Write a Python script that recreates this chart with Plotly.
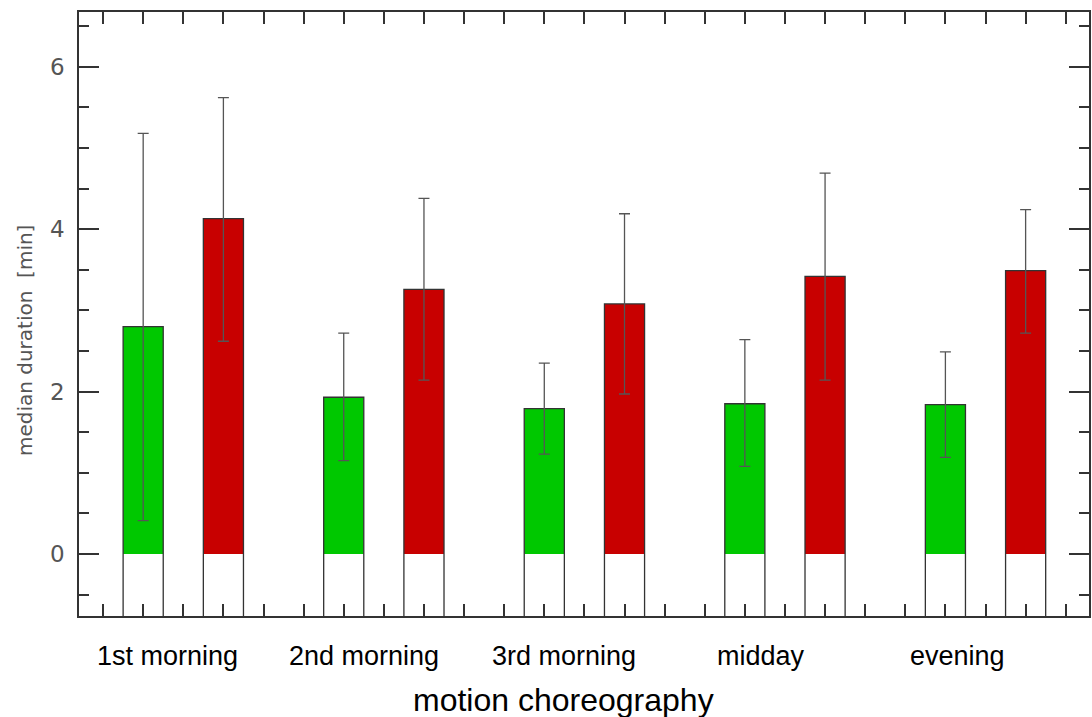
import plotly.graph_objects as go

categories = ["1st morning", "2nd morning", "3rd morning", "midday", "evening"]
green_vals = [2.80, 1.93, 1.79, 1.85, 1.84]
green_hi = [5.18, 2.72, 2.35, 2.64, 2.49]
green_lo = [0.41, 1.15, 1.23, 1.08, 1.19]
red_vals = [4.13, 3.26, 3.08, 3.42, 3.49]
red_hi = [5.62, 4.38, 4.19, 4.69, 4.24]
red_lo = [2.62, 2.14, 1.97, 2.14, 2.72]

green_x = [1, 6, 11, 16, 21]
red_x = [3, 8, 13, 18, 23]
label_x = [1.6, 6.5, 11.5, 16.4, 21.3]

YMIN, YMAX = -0.764, 6.675
XMIN, XMAX = -0.6, 24.58
BASE = -1.0

GREEN = "#00c800"
RED = "#c80000"
EDGE = "#333333"

fig = go.Figure()

def add_group(xs, vals, hi, lo, color):
    # white part below zero
    fig.add_trace(go.Bar(x=xs, y=[0 - BASE] * len(xs), base=[BASE] * len(xs), width=1,
                         marker=dict(color="white", line=dict(width=0)), showlegend=False,
                         hoverinfo="skip"))
    # colored part
    fig.add_trace(go.Bar(x=xs, y=vals, base=[0] * len(xs), width=1,
                         marker=dict(color=color, line=dict(width=0)), showlegend=False))
    # outline
    fig.add_trace(go.Bar(x=xs, y=[v - BASE for v in vals], base=[BASE] * len(xs), width=1,
                         marker=dict(color="rgba(0,0,0,0)", line=dict(width=1.3, color=EDGE)),
                         showlegend=False, hoverinfo="skip"))
    # error bars
    fig.add_trace(go.Scatter(x=xs, y=vals, mode="markers", marker=dict(size=0.1, opacity=0),
                             error_y=dict(type="data", symmetric=False,
                                          array=[h - v for h, v in zip(hi, vals)],
                                          arrayminus=[v - l for v, l in zip(vals, lo)],
                                          color="#555555", thickness=1.3, width=5.5),
                             showlegend=False))

add_group(green_x, green_vals, green_hi, green_lo, GREEN)
add_group(red_x, red_vals, red_hi, red_lo, RED)

fig.update_layout(
    width=1092, height=717,
    margin=dict(l=79, r=1, t=12, b=101),
    paper_bgcolor="white", plot_bgcolor="white",
    barmode="overlay",
    xaxis=dict(range=[XMIN, XMAX], tickmode="array", tickvals=list(range(25)),
               ticks="inside", ticklen=12, tickwidth=1.5, tickcolor=EDGE,
               showticklabels=False, showgrid=False, zeroline=False,
               showline=True, linecolor=EDGE, linewidth=1.5, mirror="allticks"),
    yaxis=dict(range=[YMIN, YMAX], tickmode="array", tickvals=[0, 2, 4, 6],
               ticks="inside", ticklen=20, tickwidth=1.5, tickcolor=EDGE,
               minor=dict(tickmode="array", tickvals=[-0.5, 0.5, 1, 1.5, 2.5, 3, 3.5, 4.5, 5, 5.5, 6.5],
                          ticks="inside", ticklen=10, tickwidth=1.5, tickcolor=EDGE),
               tickfont=dict(family="DejaVu Sans", size=23, color="#555555"),
               ticklabelstandoff=8,
               showgrid=False, zeroline=False,
               showline=True, linecolor=EDGE, linewidth=1.5, mirror="allticks"),
)

plot_top, plot_bot = 12, 616
def py(pix):
    return (plot_bot - pix) / (plot_bot - plot_top)

for lx, cat in zip(label_x, categories):
    fig.add_annotation(x=lx, y=py(656), xref="x", yref="paper", text=cat, showarrow=False,
                       font=dict(family="Liberation Sans", size=27, color="black"),
                       xanchor="center", yanchor="middle")

fig.add_annotation(x=(564 - 79) / 1012, y=py(700), xref="paper", yref="paper",
                   text="motion choreography", showarrow=False,
                   font=dict(family="Liberation Sans", size=32, color="black"),
                   xanchor="center", yanchor="middle")

fig.add_annotation(x=(25 - 79) / 1012, y=py(340), xref="paper", yref="paper",
                   text="median duration  [min]", showarrow=False, textangle=-90,
                   font=dict(family="DejaVu Sans", size=20, color="#555555"),
                   xanchor="center", yanchor="middle")

fig.write_html("out.html")
